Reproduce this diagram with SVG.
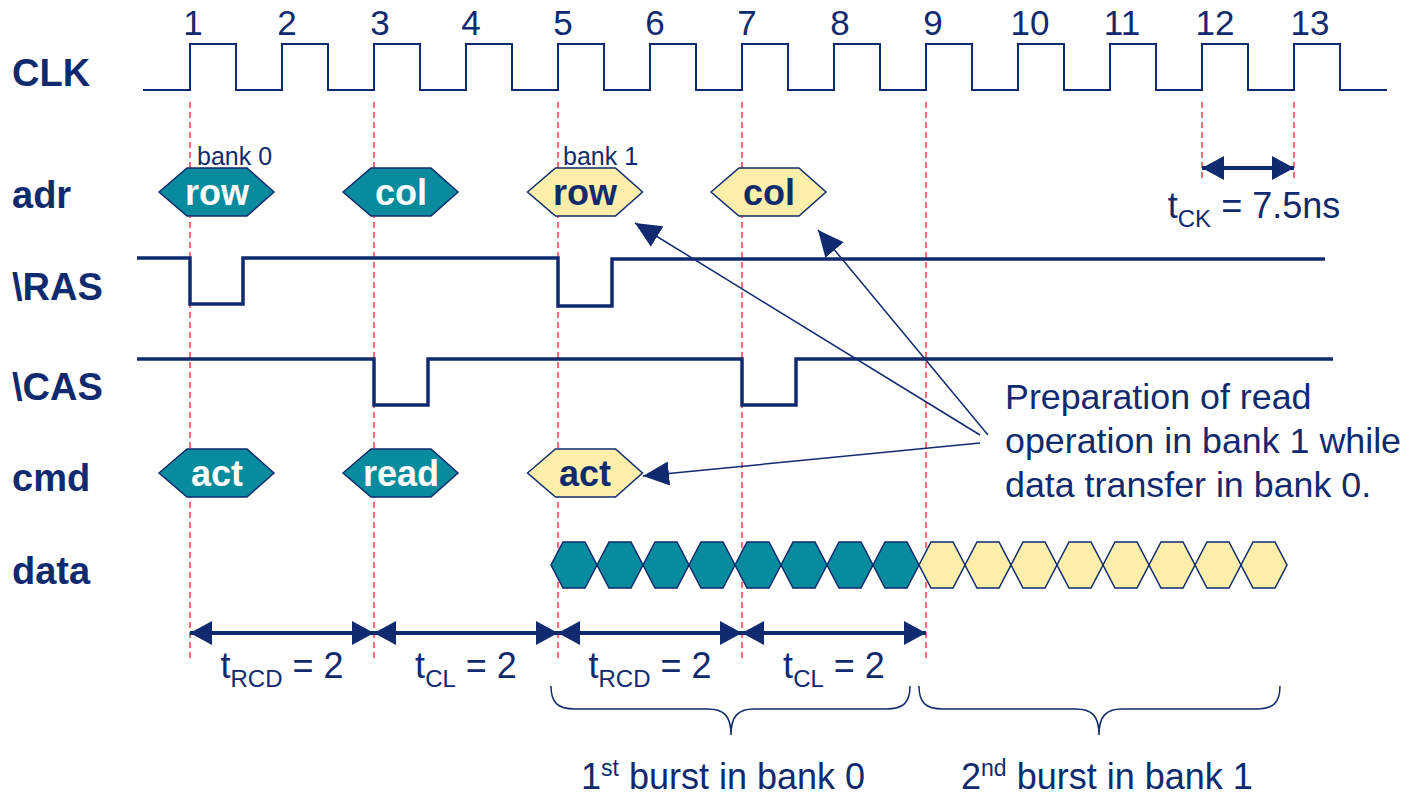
<svg xmlns="http://www.w3.org/2000/svg" xmlns:xlink="http://www.w3.org/1999/xlink" width="1423" height="798" viewBox="0 0 1423 798">
<style>
text{font-family:"Liberation Sans",Arial,sans-serif;fill:#0f2a6e}
.lbl{font-size:38px;font-weight:bold}
.num{font-size:35px;text-anchor:middle}
.bank{font-size:25px}
.hxt{font-size:36px;font-weight:bold;text-anchor:middle}
.wt{fill:#ffffff}
.teal{fill:#078b9d;stroke:#0f2a6e;stroke-width:1.5}
.yel{fill:#fdefaa;stroke:#0f2a6e;stroke-width:1.5}
.sig{fill:none;stroke:#0f2a6e;stroke-width:3.5}
.clk{fill:none;stroke:#0f2a6e;stroke-width:2}
.dash{stroke:#e3262a;stroke-width:1.3;stroke-dasharray:6 4;fill:none}
.dim{stroke:#0f2a6e;stroke-width:4;fill:none;marker-start:url(#bh);marker-end:url(#bh)}
.call{stroke:#0f2a6e;stroke-width:1.5;fill:none;marker-end:url(#th)}
.tm{font-size:36px;text-anchor:middle}
.brace{fill:none;stroke:#0f2a6e;stroke-width:1.5}
</style>
<defs>
<marker id="bh" markerUnits="userSpaceOnUse" markerWidth="22" markerHeight="24" refX="22" refY="12" orient="auto-start-reverse"><path d="M0,0 L22,12 L0,24 z" fill="#0f2a6e"/></marker>
<marker id="th" markerUnits="userSpaceOnUse" markerWidth="26" markerHeight="24" refX="26" refY="12" orient="auto"><path d="M0,0 L26,12 L0,24 z" fill="#0f2a6e"/></marker>
<polygon id="hx" points="-57.5,0 -29.5,-24 30.5,-24 57.5,0 30.5,24 -29.5,24"/>
<polygon id="dh" points="0,0 12,-23 34,-23 46,0 34,23 12,23"/>
</defs>

<g id="guides">
<path class="dash" d="M190,102V660M374,102V660M558,102V660M742,102V660M926,102V660M1202,102V182M1294,102V182"/>
</g>

<g id="labels">
<text class="lbl" x="12" y="86">CLK</text>
<text class="lbl" x="12" y="208">adr</text>
<text class="lbl" x="12" y="300">\RAS</text>
<text class="lbl" x="12" y="400">\CAS</text>
<text class="lbl" x="12" y="491">cmd</text>
<text class="lbl" x="12" y="584">data</text>
</g>

<g id="clock-numbers">
<text class="num" x="193" y="35">1</text>
<text class="num" x="287" y="35">2</text>
<text class="num" x="380" y="35">3</text>
<text class="num" x="471" y="35">4</text>
<text class="num" x="563" y="35">5</text>
<text class="num" x="655" y="35">6</text>
<text class="num" x="747" y="35">7</text>
<text class="num" x="840" y="35">8</text>
<text class="num" x="933" y="35">9</text>
<text class="num" x="1030" y="35">10</text>
<text class="num" x="1122" y="35">11</text>
<text class="num" x="1215" y="35">12</text>
<text class="num" x="1310" y="35">13</text>
</g>

<g id="clk">
<path class="clk" d="M143,90H190V44H236V90H282V44H328V90H374V44H420V90H466V44H512V90H558V44H604V90H650V44H696V90H742V44H788V90H834V44H880V90H926V44H972V90H1018V44H1064V90H1110V44H1156V90H1202V44H1248V90H1294V44H1340V90H1387"/>
</g>

<g id="ras">
<path class="sig" d="M137,258H190V304H243V258H558V306H612V259H1325"/>
</g>
<g id="cas">
<path class="sig" d="M137,359H374V405H428V359H742V405H796V359H1333"/>
</g>

<g id="adr-row0">
<text class="bank" x="197" y="165">bank 0</text>
<use xlink:href="#hx" href="#hx" x="216.5" y="192" class="teal"/>
<text class="hxt wt" x="217" y="205">row</text>
</g>
<g id="adr-col0">
<use xlink:href="#hx" href="#hx" x="400.5" y="192" class="teal"/>
<text class="hxt wt" x="401" y="205">col</text>
</g>
<g id="adr-row1">
<text class="bank" x="563" y="165">bank 1</text>
<use xlink:href="#hx" href="#hx" x="585" y="192" class="yel"/>
<text class="hxt" x="585" y="205">row</text>
</g>
<g id="adr-col1">
<use xlink:href="#hx" href="#hx" x="768.5" y="192" class="yel"/>
<text class="hxt" x="769" y="205">col</text>
</g>

<g id="cmd-act0">
<use xlink:href="#hx" href="#hx" x="216.5" y="473" class="teal"/>
<text class="hxt wt" x="217" y="486">act</text>
</g>
<g id="cmd-read0">
<use xlink:href="#hx" href="#hx" x="400.5" y="473" class="teal"/>
<text class="hxt wt" x="401" y="486">read</text>
</g>
<g id="cmd-act1">
<use xlink:href="#hx" href="#hx" x="585" y="473" class="yel"/>
<text class="hxt" x="585" y="486">act</text>
</g>

<g id="data-bank0">
<use href="#dh" xlink:href="#dh" x="551" y="565" class="teal"/>
<use href="#dh" xlink:href="#dh" x="597" y="565" class="teal"/>
<use href="#dh" xlink:href="#dh" x="643" y="565" class="teal"/>
<use href="#dh" xlink:href="#dh" x="689" y="565" class="teal"/>
<use href="#dh" xlink:href="#dh" x="735" y="565" class="teal"/>
<use href="#dh" xlink:href="#dh" x="781" y="565" class="teal"/>
<use href="#dh" xlink:href="#dh" x="827" y="565" class="teal"/>
<use href="#dh" xlink:href="#dh" x="873" y="565" class="teal"/>
</g>
<g id="data-bank1">
<use href="#dh" xlink:href="#dh" x="919" y="565" class="yel"/>
<use href="#dh" xlink:href="#dh" x="965" y="565" class="yel"/>
<use href="#dh" xlink:href="#dh" x="1011" y="565" class="yel"/>
<use href="#dh" xlink:href="#dh" x="1057" y="565" class="yel"/>
<use href="#dh" xlink:href="#dh" x="1103" y="565" class="yel"/>
<use href="#dh" xlink:href="#dh" x="1149" y="565" class="yel"/>
<use href="#dh" xlink:href="#dh" x="1195" y="565" class="yel"/>
<use href="#dh" xlink:href="#dh" x="1241" y="565" class="yel"/>
</g>

<g id="connectors">
<line class="dim" x1="190" y1="633" x2="374" y2="633"/>
<line class="dim" x1="374" y1="633" x2="558" y2="633"/>
<line class="dim" x1="558" y1="633" x2="742" y2="633"/>
<line class="dim" x1="742" y1="633" x2="926" y2="633"/>
<line class="dim" x1="1202" y1="168" x2="1294" y2="168"/>
<line class="call" x1="980" y1="435" x2="635" y2="223"/>
<line class="call" x1="988" y1="435" x2="818" y2="230"/>
<line class="call" x1="980" y1="443" x2="643" y2="476"/>
</g>

<g id="timing-labels">
<text class="tm" x="282" y="678">t<tspan font-size="24" dy="9">RCD</tspan><tspan dy="-9"> = 2</tspan></text>
<text class="tm" x="466" y="678">t<tspan font-size="24" dy="9">CL</tspan><tspan dy="-9"> = 2</tspan></text>
<text class="tm" x="650" y="678">t<tspan font-size="24" dy="9">RCD</tspan><tspan dy="-9"> = 2</tspan></text>
<text class="tm" x="834" y="678">t<tspan font-size="24" dy="9">CL</tspan><tspan dy="-9"> = 2</tspan></text>
<text class="tm" x="1254" y="218">t<tspan font-size="24" dy="9">CK</tspan><tspan dy="-9"> = 7.5ns</tspan></text>
</g>

<g id="note">
<text font-size="35.8" x="1005" y="409">Preparation of read</text>
<text font-size="35.8" x="1005" y="453">operation in bank 1 while</text>
<text font-size="35.8" x="1005" y="497">data transfer in bank 0.</text>
</g>

<g id="bursts">
<path class="brace" d="M551,686C551,703 558,709 575,709L708,709C724,709 731,716 731,735C731,716 738,709 754,709L886,709C903,709 910,703 910,686"/>
<path class="brace" d="M919,686C919,703 926,709 943,709L1076,709C1092,709 1099,716 1099,735C1099,716 1106,709 1122,709L1256,709C1273,709 1280,703 1280,686"/>
<text font-size="36" x="581" y="789">1<tspan font-size="23" dy="-13">st</tspan><tspan dy="13"> burst in bank 0</tspan></text>
<text font-size="36" x="961" y="789">2<tspan font-size="23" dy="-13">nd</tspan><tspan dy="13"> burst in bank 1</tspan></text>
</g>
</svg>
